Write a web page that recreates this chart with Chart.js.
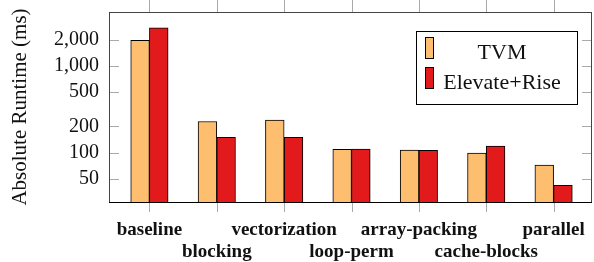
<!DOCTYPE html>
<html>
<head>
<meta charset="utf-8">
<script src="https://cdn.jsdelivr.net/npm/chart.js@4.4.1/dist/chart.umd.min.js"></script>
<style>
html, body { margin: 0; padding: 0; background: #fff; }
#wrap { width: 594px; height: 262px; }
</style>
</head>
<body>
<div id="wrap"><canvas id="runtimeChart"></canvas></div>
<script>
const steps = ['baseline', 'blocking', 'vectorization', 'loop-perm', 'array-packing', 'cache-blocks', 'parallel'];
const tvmRuntime = [1960, 228, 236, 109, 107, 99, 72];
const riseRuntime = [2730, 150, 150, 110, 106, 119, 42];
const yTicks = [50, 100, 200, 500, 1000, 2000];
const seriesNames = ['TVM', 'Elevate+Rise'];
const seriesColors = ['#fdbf6f', '#e31a1c'];

const serif = "'Liberation Serif', 'DejaVu Serif', serif";

// 枠と目盛り線 (pgfplots 風)
const frameTicks = {
    id: 'frameTicks',
    afterDatasetsDraw(chart) {
        const { ctx, chartArea: a, scales } = chart;
        ctx.save();
        ctx.lineWidth = 1;
        ctx.strokeStyle = '#aaaaaa';
        ctx.beginPath();
        scales.y.ticks.forEach(t => {
            const y = Math.round(scales.y.getPixelForValue(t.value)) + 0.5;
            ctx.moveTo(a.left, y); ctx.lineTo(a.left + 10, y);
            ctx.moveTo(a.right - 10, y); ctx.lineTo(a.right, y);
        });
        scales.x.ticks.forEach(t => {
            const x = Math.round(scales.x.getPixelForValue(t.value)) + 0.5;
            ctx.moveTo(x, a.top - 12); ctx.lineTo(x, a.top);
            ctx.moveTo(x, a.bottom); ctx.lineTo(x, a.bottom + 10);
        });
        ctx.stroke();
        ctx.strokeStyle = '#444444';
        ctx.strokeRect(Math.round(a.left) + 0.5, Math.round(a.top) + 0.5,
            Math.round(a.right - a.left) - 1, Math.round(a.bottom - a.top));
        ctx.strokeStyle = '#000';
        ctx.beginPath();
        ctx.moveTo(a.left, Math.round(a.bottom) + 0.5);
        ctx.lineTo(a.right, Math.round(a.bottom) + 0.5);
        ctx.stroke();
        ctx.restore();
    }
};

// 凡例をプロット内に描く
const boxLegend = {
    id: 'boxLegend',
    afterDraw(chart) {
        const { ctx, chartArea: a } = chart;
        const bx = Math.round(a.right - 176) + 0.5;
        const by = Math.round(a.top + 19) + 0.5;
        ctx.save();
        ctx.fillStyle = '#fff';
        ctx.fillRect(bx, by, 161, 73);
        ctx.strokeStyle = '#000';
        ctx.lineWidth = 1;
        ctx.strokeRect(bx, by, 161, 73);
        ctx.font = '22px ' + serif;
        ctx.textAlign = 'center';
        ctx.textBaseline = 'alphabetic';
        chart.data.datasets.forEach((ds, i) => {
            const sy = by + 6 + i * 30;
            ctx.fillStyle = ds.backgroundColor;
            ctx.fillRect(bx + 9, sy, 8, 21);
            ctx.strokeStyle = '#000';
            ctx.strokeRect(bx + 9, sy, 8, 21);
            ctx.fillStyle = '#111';
            ctx.fillText(ds.label, bx + 85.5, by + 27 + i * 30);
        });
        ctx.restore();
    }
};

const ctx = document.getElementById('runtimeChart').getContext('2d');

new Chart(ctx, {
    type: 'bar',
    data: {
        datasets: [
            {
                label: seriesNames[0],
                data: tvmRuntime.map((v, i) => ({ x: i, y: v })),
                backgroundColor: seriesColors[0],
                borderColor: '#000',
                borderWidth: 1
            },
            {
                label: seriesNames[1],
                data: riseRuntime.map((v, i) => ({ x: i, y: v })),
                backgroundColor: seriesColors[1],
                borderColor: '#000',
                borderWidth: 1
            }
        ]
    },
    options: {
        responsive: true,
        maintainAspectRatio: false,
        animation: false,
        barThickness: 18.7,
        layout: { padding: { top: 12, right: 2 } },
        plugins: {
            legend: { display: false },
            tooltip: { enabled: false }
        },
        scales: {
            x: {
                type: 'linear',
                min: -0.6,
                max: 6.57,
                offset: false,
                grid: { display: false, drawTicks: false, offset: false },
                border: { display: false },
                afterBuildTicks: scale => { scale.ticks = steps.map((_, i) => ({ value: i })); },
                afterFit: scale => {
                    scale.height = 60;
                    scale.paddingLeft = 0;
                    scale.paddingRight = 0;
                },
                ticks: {
                    autoSkip: false,
                    maxRotation: 0,
                    padding: 17,
                    color: '#111',
                    font: { family: serif, size: 19, weight: 'bold', lineHeight: '22px' },
                    callback: (value, index) => index % 2 ? ['', steps[index]] : steps[index]
                }
            },
            y: {
                type: 'logarithmic',
                min: 27,
                max: 4150,
                bounds: 'data',
                grid: { display: false, drawTicks: false },
                border: { display: false },
                afterBuildTicks: scale => { scale.ticks = yTicks.map(v => ({ value: v })); },
                afterFit: scale => {
                    scale.width = 109;
                    scale.paddingTop = 0;
                    scale.paddingBottom = 0;
                },
                ticks: {
                    padding: 10,
                    color: '#111',
                    font: { family: serif, size: 20 },
                    callback: value => value.toLocaleString('en-US')
                },
                title: {
                    display: true,
                    text: 'Absolute Runtime (ms)',
                    color: '#111',
                    padding: { top: 8, bottom: 0 },
                    font: { family: serif, size: 21 }
                }
            }
        }
    },
    plugins: [frameTicks, boxLegend]
});
</script>
</body>
</html>
